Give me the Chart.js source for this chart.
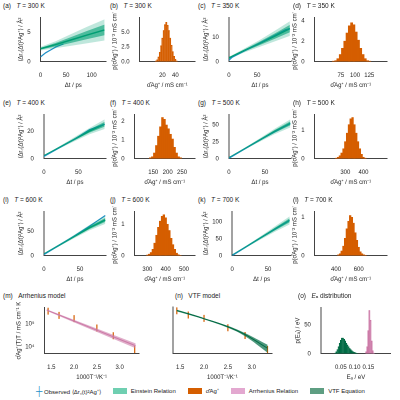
<!DOCTYPE html>
<html><head><meta charset="utf-8">
<script src="https://cdn.jsdelivr.net/npm/chart.js@4.4.1/dist/chart.umd.min.js"></script>
<style>
body{margin:0;width:400px;height:400px;background:#fff;position:relative;font-family:"Liberation Sans",Arial,sans-serif;overflow:hidden}
.c{position:absolute}
.lab{position:absolute;font-size:6.5px;color:#222;white-space:nowrap}
.leg{position:absolute;top:386px;left:36px;font-size:6px;color:#222;display:flex;gap:12px;align-items:center;white-space:nowrap}
.sw{display:inline-block;width:14px;height:6px;vertical-align:middle;margin-right:4px}
</style></head><body>

<script>
// ---- MSD panels: time points and band values
const msdT = {
  a: [0, 30, 60, 90, 125], c: [0, 27, 55, 82, 108], e: [0, 22, 44, 66, 88],
  g: [0, 21, 42, 63, 85], i: [0, 21, 42, 63, 85], k: [0, 20, 40, 60, 80]
};
const msdMean = {
  a: [2.2, 2.9, 3.7, 4.5, 5.4], c: [1.5, 4.5, 7.5, 10.5, 13.5], e: [2, 8, 14, 20, 25],
  g: [1, 14, 27, 40, 52], i: [3, 21, 39, 57, 73], k: [1, 27, 53, 79, 104]
};
const msdSpread = {
  a: [0.3, 0.6, 1.0, 1.4, 1.8], c: [0.4, 0.8, 1.4, 2.2, 3.0], e: [0.3, 0.8, 1.5, 2.3, 3.5],
  g: [0.3, 1.2, 2.5, 4, 6], i: [0.5, 2, 3.5, 5.5, 8], k: [0.3, 2.5, 5, 8, 12]
};
const obsT = {
  a: [0, 10, 20, 30, 45], c: [0, 3, 6, 100, 108], e: [0, 44, 66, 88],
  g: [0, 42, 85], i: [0, 42, 63, 85], k: [0, 40, 80]
};
const obsY = {
  a: [0.8, 1.5, 2.0, 2.5, 3.0], c: [0.5, 1.2, 1.8, 13, 13.5], e: [1.5, 14, 21, 25],
  g: [0.5, 27, 52], i: [2, 40, 60, 82], k: [0.5, 53, 104]
};
const msdXmax = {a: 128, c: 110, e: 90, g: 86, i: 86, k: 82};
const msdYmax = {a: 7.5, c: 18, e: 32, g: 65, i: 90, k: 130};
const msdTicks = {a: [0, 5], c: [0, 10], e: [0, 20], g: [0, 25, 50], i: [0, 50], k: [0, 50, 100]};

// ---- conductivity histograms: bin centres and densities
const histBins = {
  b: [10,12,14,16,18,20,22,24,26,28,30,32,34,36,38,40,42],
  d: [62,66,70,74,78,82,86,90,94,98,102,106,110,114,118,122,126],
  f: [140,147,154,161,168,175,182,189,196,203,210,217,224,231,238,245],
  h: [250,260,270,280,290,300,310,320,330,340,350,360,370,380,390,400,410],
  j: [300,310,320,330,340,350,360,370,380,390,400,410,420,430,440,450,460,470,480],
  l: [420,435,450,465,480,495,510,525,540,555,570,585,600,615,630,645,660]
};
const histVals = {
  b: [0.1,0.3,0.8,1.6,2.7,4.0,5.3,6.3,6.7,6.2,5.3,4.0,2.8,1.7,0.9,0.4,0.1],
  d: [0.05,0.1,0.3,0.7,1.3,2.0,2.8,3.5,3.8,3.6,2.9,2.1,1.3,0.7,0.3,0.1,0.05],
  f: [0.05,0.1,0.3,0.7,1.2,1.7,2.2,2.1,1.8,1.6,1.3,1.05,0.6,0.3,0.1,0.05],
  h: [0.02,0.05,0.1,0.2,0.35,0.6,0.9,1.2,1.4,1.45,1.2,0.9,0.6,0.35,0.15,0.05,0.02],
  j: [0.02,0.05,0.1,0.2,0.4,0.65,0.9,1.1,1.25,1.3,1.2,1.0,0.8,0.55,0.35,0.2,0.08,0.03,0.01],
  l: [0.02,0.05,0.12,0.25,0.45,0.7,0.9,1.05,1.0,0.85,0.6,0.4,0.22,0.1,0.05,0.02,0.01]
};
const histX = {b: [6, 49], d: [50, 135], f: [120, 260], h: [230, 430], j: [285, 505], l: [370, 690]};
const histXTicks = {b: [20, 40], d: [75, 100, 125], f: [150, 200, 250], h: [300, 400], j: [300, 400, 500], l: [400, 600]};
const histYmax = {b: 7.5, d: 4.3, f: 2.35, h: 1.55, j: 1.4, l: 1.15};
const histYTicks = {b: [0, 2.5, 5], d: [0, 2, 4], f: [0, 1, 2], h: [0, 1], j: [0, 1], l: [0, 1]};
const histTickFmt = {b: 1, d: 0, f: 0, h: 0, j: 0, l: 0};

const temps = {a: 300, b: 300, c: 350, d: 350, e: 400, f: 400, g: 500, h: 500, i: 600, j: 600, k: 700, l: 700};

// ---- Arrhenius / VTF
const invT = [1.43, 1.67, 2.0, 2.5, 2.86, 3.33];
const sigT = [3.5e5, 2.3e5, 1.65e5, 6.5e4, 3.0e4, 7.5e3];
const arrX = [1.4, 3.35];
const arrMean = [3.9e5, 1.1e4];
const arrLo = [3.6e5, 0.85e4];
const arrHi = [4.2e5, 1.4e4];
const vtfX = [1.43, 1.67, 2.0, 2.5, 2.86, 3.33];
const vtfMean = [3.6e5, 2.6e5, 1.6e5, 7.2e4, 3.3e4, 8.5e3];
const vtfLo = [3.3e5, 2.4e5, 1.5e5, 6.5e4, 2.8e4, 5.5e3];
const vtfHi = [3.9e5, 2.8e5, 1.7e5, 7.8e4, 3.8e4, 1.2e4];

// ---- activation energy distributions
const eaBinsVtf = [0.030,0.034,0.038,0.042,0.046,0.050,0.054,0.058,0.062,0.066,0.070,0.074,0.078,0.082,0.086,0.090,0.094,0.098,0.102,0.106,0.110];
const eaValsVtf = [1,3,7,12,18,23,27,27,25,22,18,15,12,9,7,5,3.5,2.5,1.5,0.8,0.3];
const eaBinsArr = [0.142,0.146,0.150,0.154,0.158,0.162,0.166,0.170];
const eaValsArr = [3,12,40,75,58,22,5,1];

const GREEN = "#009e73", ORANGE = "#d55e00", PINK = "#cc79a7", BLUE = "#1f8fc7", DGREEN = "#006b45";
Chart.defaults.font.family = "Liberation Sans, Arial, sans-serif";
Chart.defaults.font.size = 6;
Chart.defaults.color = "#222";
Chart.defaults.animation = false;
Chart.defaults.devicePixelRatio = 2;

function addCanvas(left, top, w, h) {
  const c = document.createElement("canvas");
  c.className = "c";
  c.style.left = left + "px"; c.style.top = top + "px";
  c.width = w; c.height = h;
  c.style.width = w + "px"; c.style.height = h + "px";
  document.body.appendChild(c);
  return c;
}
function addLabel(left, top, html) {
  const d = document.createElement("div");
  d.className = "lab"; d.style.left = left + "px"; d.style.top = top + "px";
  d.innerHTML = html;
  document.body.appendChild(d);
}
function axis(min, max, ticks, title, fmt) {
  return {
    type: "linear", min, max,
    grid: {display: false}, border: {display: true, color: "#444"},
    afterBuildTicks: s => { s.ticks = ticks.map(v => ({value: v})); },
    ticks: {padding: 2, font: {size: 6}, callback: v => fmt ? v.toFixed(fmt) : v},
    title: {display: !!title, text: title, padding: 1, font: {size: 6}}
  };
}
function pts(xs, ys) { return xs.map((x, i) => ({x, y: ys[i]})); }

function msdChart(k, left, top) {
  const t = msdT[k], m = msdMean[k], s = msdSpread[k];
  const up2 = m.map((v, i) => v + s[i]), lo2 = m.map((v, i) => v - s[i]);
  const up1 = m.map((v, i) => v + s[i] * 0.5), lo1 = m.map((v, i) => v - s[i] * 0.5);
  new Chart(addCanvas(left, top, 92, 78), {
    type: "line",
    data: {datasets: [
      {data: pts(t, up2), borderWidth: 0, pointRadius: 0, fill: false},
      {data: pts(t, lo2), borderWidth: 0, pointRadius: 0, fill: "-1", backgroundColor: "rgba(0,158,115,0.25)"},
      {data: pts(t, up1), borderWidth: 0, pointRadius: 0, fill: false},
      {data: pts(t, lo1), borderWidth: 0, pointRadius: 0, fill: "-1", backgroundColor: "rgba(0,158,115,0.6)"},
      {data: pts(obsT[k], obsY[k]), borderColor: BLUE, borderWidth: 1.2, pointRadius: 0},
      {data: pts(t, m), borderColor: GREEN, borderWidth: 1.5, pointRadius: 0}
    ]},
    options: {
      responsive: false, plugins: {legend: {display: false}, tooltip: {enabled: false}},
      layout: {padding: {right: 2}},
      scales: {
        x: axis(0, msdXmax[k], k === "a" ? [0, 50, 100] : [0, 50], "Δt / ps"),
        y: axis(0, msdYmax[k], msdTicks[k], "⟨Δr꜀(Δt)²Ag⁺⟩ / Å²")
      }
    }
  });
}

function histChart(k, left, top, w) {
  new Chart(addCanvas(left, top, w, 78), {
    type: "bar",
    data: {datasets: [{data: pts(histBins[k], histVals[k]), backgroundColor: ORANGE,
      borderColor: ORANGE, borderWidth: 0.6, barPercentage: 1, categoryPercentage: 1}]},
    options: {
      responsive: false, plugins: {legend: {display: false}, tooltip: {enabled: false}},
      layout: {padding: {right: 3}},
      scales: {
        x: axis(histX[k][0], histX[k][1], histXTicks[k], "σ̂Ag⁺ / mS cm⁻¹"),
        y: axis(0, histYmax[k], histYTicks[k], "p(σ̂Ag⁺) / 10⁻² mS cm⁻¹", histTickFmt[k])
      }
    }
  });
}

const rows = [0, 97, 194];
const panels = [["a","b","c","d"], ["e","f","g","h"], ["i","j","k","l"]];
panels.forEach((row, r) => {
  const top = rows[r];
  msdChart(row[0], 16, top + 12);
  addLabel(3, top + 2, "(" + row[0] + ")&nbsp;&nbsp;&nbsp;<i>T</i> = " + temps[row[0]] + " K");
  histChart(row[1], 110, top + 12, 88);
  addLabel(110, top + 2, "(" + row[1] + ")&nbsp;&nbsp;&nbsp;<i>T</i> = " + temps[row[1]] + " K");
  msdChart(row[2], 201, top + 12);
  addLabel(198, top + 2, "(" + row[2] + ")&nbsp;&nbsp;&nbsp;<i>T</i> = " + temps[row[2]] + " K");
  histChart(row[3], 290, top + 12, 100);
  addLabel(293, top + 2, "(" + row[3] + ")&nbsp;&nbsp;&nbsp;<i>T</i> = " + temps[row[3]] + " K");
});

function logAxis(title, showTicks) {
  return {
    type: "logarithmic", min: 5000, max: 5e5,
    grid: {display: false}, border: {display: true, color: "#444"},
    afterBuildTicks: s => { s.ticks = [{value: 1e4}, {value: 1e5}]; },
    ticks: {display: showTicks, padding: 2, font: {size: 6}, callback: v => v === 1e4 ? "10⁴" : "10⁵"},
    title: {display: !!title, text: title, padding: 1, font: {size: 6}}
  };
}
const obsSet = {type: "scatter", data: pts(invT, sigT), pointStyle: "line", rotation: 90,
  radius: 3.5, borderColor: ORANGE, borderWidth: 1.2};

addLabel(3, 292, "(m)&nbsp;&nbsp;&nbsp;Arrhenius model");
new Chart(addCanvas(14, 302, 130, 80), {
  type: "line",
  data: {datasets: [
    {data: pts(arrX, arrHi), borderWidth: 0, pointRadius: 0},
    {data: pts(arrX, arrLo), borderWidth: 0, pointRadius: 0, fill: "-1", backgroundColor: "rgba(204,121,167,0.6)"},
    {data: pts(arrX, arrMean), borderColor: PINK, borderWidth: 1, pointRadius: 0},
    obsSet
  ]},
  options: {
    responsive: false, plugins: {legend: {display: false}, tooltip: {enabled: false}},
    scales: {x: axis(1.35, 3.42, [1.5, 2.0, 2.5, 3.0], "1000T⁻¹/K⁻¹", 1),
      y: logAxis("σ̂Ag⁺(T)T / mS cm⁻¹ K", true)}
  }
});

addLabel(175, 292, "(n)&nbsp;&nbsp;&nbsp;VTF model");
new Chart(addCanvas(165, 302, 112, 80), {
  type: "line",
  data: {datasets: [
    {data: pts(vtfX, vtfHi), borderWidth: 0, pointRadius: 0, tension: 0.4},
    {data: pts(vtfX, vtfLo), borderWidth: 0, pointRadius: 0, tension: 0.4, fill: "-1", backgroundColor: "rgba(0,107,69,0.7)"},
    {data: pts(vtfX, vtfMean), borderColor: DGREEN, borderWidth: 1, pointRadius: 0, tension: 0.4},
    obsSet
  ]},
  options: {
    responsive: false, plugins: {legend: {display: false}, tooltip: {enabled: false}},
    scales: {x: axis(1.35, 3.42, [1.5, 2.0, 2.5, 3.0], "1000T⁻¹/K⁻¹", 1), y: logAxis("", false)}
  }
});

addLabel(298, 292, "(o)&nbsp;&nbsp;&nbsp;<i>E</i>ₐ distribution");
new Chart(addCanvas(293, 302, 98, 80), {
  type: "bar",
  data: {datasets: [
    {data: pts(eaBinsVtf, eaValsVtf), backgroundColor: DGREEN, borderColor: DGREEN, borderWidth: 0.5, barPercentage: 1, categoryPercentage: 1, grouped: false},
    {data: pts(eaBinsArr, eaValsArr), backgroundColor: PINK, borderColor: PINK, borderWidth: 0.5, barPercentage: 1, categoryPercentage: 1, grouped: false}
  ]},
  options: {
    responsive: false, plugins: {legend: {display: false}, tooltip: {enabled: false}},
    scales: {x: axis(0.02, 0.19, [0.05, 0.10, 0.15], "Eₐ / eV", 2),
      y: axis(0, 80, [0, 50], "p(Eₐ) / eV")}
  }
});
</script>
<div class="leg">
  <span><span style="font-size:9px;color:#1f8fc7">┼</span> Observed ⟨Δr꜀(t)²Ag⁺⟩</span>
  <span><span class="sw" style="background:#6fcfb1"></span>Einstein Relation</span>
  <span><span class="sw" style="background:#d55e00"></span>σ̂Ag⁺</span>
  <span><span class="sw" style="background:#e3a8d0"></span>Arrhenius Relation</span>
  <span><span class="sw" style="background:#5e9e82"></span>VTF Equation</span>
</div>
</body></html>
